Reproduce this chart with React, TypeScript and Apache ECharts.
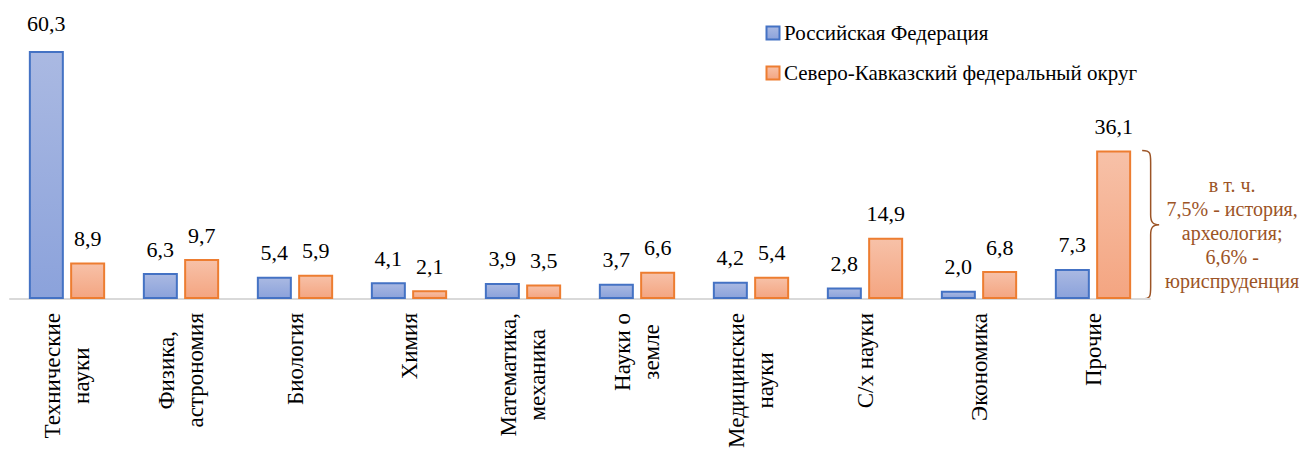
import React, { useEffect, useRef } from "react";
import * as echarts from "echarts";

const categories = [
  "Технические\nнауки",
  "Физика,\nастрономия",
  "Биология",
  "Химия",
  "Математика,\nмеханика",
  "Науки о\nземле",
  "Медицинские\nнауки",
  "С/х науки",
  "Экономика",
  "Прочие",
];
const seriesNames = ["Российская Федерация", "Северо-Кавказский федеральный округ"];
const rfValues = [60.3, 6.3, 5.4, 4.1, 3.9, 3.7, 4.2, 2.8, 2.0, 7.3];
const skfoValues = [8.9, 9.7, 5.9, 2.1, 3.5, 6.6, 5.4, 14.9, 6.8, 36.1];
const noteLines = ["в т. ч.", "7,5% - история,", "археология;", "6,6% -", "юриспруденция"];

const FONT = "Liberation Serif";
const AXIS_FS = 23;
const VAL_FS = 22;
const LEG_FS = 21;
const BROWN = "#9C5426";
const BLUE_BORDER = "#4472C4";
const ORANGE_BORDER = "#ED7D31";

function measure(text: string, size: number): number {
  const c = document.createElement("canvas");
  const ctx = c.getContext("2d");
  if (!ctx) return text.length * size * 0.5;
  ctx.font = `${size}px "Liberation Serif"`;
  return ctx.measureText(text).width;
}

const blueGrad = () =>
  new echarts.graphic.LinearGradient(0, 0, 0, 1, [
    { offset: 0, color: "#AAB9E2" },
    { offset: 1, color: "#8BA2DB" },
  ]);
const orangeGrad = () =>
  new echarts.graphic.LinearGradient(0, 0, 0, 1, [
    { offset: 0, color: "#F7C1A8" },
    { offset: 1, color: "#F4A581" },
  ]);

export default function App() {
  const ref = useRef<HTMLDivElement>(null);
  useEffect(() => {
    if (!ref.current) return;
    const chart = echarts.init(ref.current, undefined, { renderer: "svg" });

    const rich: Record<string, any> = {};
    categories.forEach((c, i) => {
      const w = Math.max(...c.split("\n").map((l) => measure(l, AXIS_FS)));
      rich["c" + i] = {
        width: Math.ceil(w) + 1,
        align: "center",
        fontSize: AXIS_FS,
        fontFamily: FONT,
        color: "#000",
        lineHeight: 28,
      };
    });

    const fmt = (v: number) => v.toFixed(1).replace(".", ",");

    const labelCfg = {
      show: true,
      position: "top" as const,
      distance: 8,
      fontSize: VAL_FS,
      fontFamily: FONT,
      color: "#000",
      formatter: (p: any) => fmt(p.value),
    };

    chart.setOption({
      animation: false,
      textStyle: { fontFamily: FONT },
      grid: { left: 2, right: 149, top: 43, bottom: 161, containLabel: false },
      legend: {
        orient: "vertical",
        left: 758,
        top: 7,
        itemWidth: 13,
        itemHeight: 13,
        itemGap: 16,
        icon: "rect",
        textStyle: { fontSize: LEG_FS, fontFamily: FONT, color: "#000" },
        data: seriesNames,
      },
      xAxis: {
        type: "category",
        data: categories,
        axisLine: { show: true, lineStyle: { color: "#D9D9D9", width: 2 } },
        axisTick: { show: false },
        axisLabel: {
          interval: 0,
          rotate: 90,
          margin: 14,
          fontFamily: FONT,
          fontSize: AXIS_FS,
          formatter: (v: string, i: number) =>
            v
              .split("\n")
              .map((l) => `{c${i}|${l}}`)
              .join("\n"),
          rich,
        },
      },
      yAxis: {
        type: "value",
        min: 0,
        max: 60.3,
        show: false,
        splitLine: { show: false },
      },
      series: [
        {
          name: seriesNames[0],
          type: "bar",
          data: rfValues,
          barWidth: 35,
          barGap: "18%",
          itemStyle: { color: blueGrad(), borderColor: BLUE_BORDER, borderWidth: 2 },
          label: labelCfg,
        },
        {
          name: seriesNames[1],
          type: "bar",
          data: skfoValues,
          barWidth: 35,
          itemStyle: { color: orangeGrad(), borderColor: ORANGE_BORDER, borderWidth: 2 },
          label: labelCfg,
        },
      ],
    });

    try {
      const model = (chart as any).getModel();
      const d0 = model.getSeriesByIndex(0).getData();
      const d1 = model.getSeriesByIndex(1).getData();
      const topOf = (l: any) => Math.min(l.y, l.y + l.height);
      const botOf = (l: any) => Math.max(l.y, l.y + l.height);

      const els: any[] = [];

      [d0, d1].forEach((dd: any, s: number) => {
        const vals = s === 0 ? rfValues : skfoValues;
        vals.forEach((v, i) => {
          const l = dd.getItemLayout(i);
          els.push({
            type: "text",
            x: l.x + l.width / 2,
            y: topOf(l) - (s === 0 && i === 0 ? 17 : 13),
            style: {
              text: fmt(v),
              fill: "#000",
              fontSize: VAL_FS,
              fontFamily: FONT,
              textAlign: "center",
              textVerticalAlign: "bottom",
            },
          });
        });
      });

      categories.forEach((c, i) => {
        const a = d0.getItemLayout(i);
        const b = d1.getItemLayout(i);
        const cx = (a.x + b.x + b.width) / 2;
        const ay = botOf(a);
        const lines = c.split("\n");
        const mw = Math.max(...lines.map((t) => measure(t, AXIS_FS)));
        lines.forEach((t, j) => {
          els.push({
            type: "text",
            x: cx + (j - (lines.length - 1) / 2) * 29,
            y: ay + 14 + mw / 2,
            rotation: Math.PI / 2,
            style: {
              text: t,
              fill: "#000",
              fontSize: AXIS_FS,
              fontFamily: FONT,
              textAlign: "center",
              textVerticalAlign: "middle",
            },
          });
        });
      });

      seriesNames.forEach((n, k) => {
        const cy = 25 + k * 40;
        els.push({
          type: "rect",
          shape: { x: 758.5, y: cy - 6.5, width: 13, height: 13 },
          style: {
            fill: k === 0 ? blueGrad() : orangeGrad(),
            stroke: k === 0 ? BLUE_BORDER : ORANGE_BORDER,
            lineWidth: 2,
          },
        });
        els.push({
          type: "text",
          x: 776,
          y: cy,
          style: {
            text: n,
            fill: "#000",
            fontSize: LEG_FS,
            fontFamily: FONT,
            textAlign: "left",
            textVerticalAlign: "middle",
          },
        });
      });

      const lay = d1.getItemLayout(skfoValues.length - 1);
      const x0 = lay.x + lay.width + 11;
      const yTop = topOf(lay);
      const yBot = botOf(lay);
      const yMid = (yTop + yBot) / 2;
      const w = 17;
      const xm = x0 + w * 0.5;
      const d =
        `M${x0},${yTop} C${xm},${yTop} ${xm},${yTop + 3} ${xm},${yTop + 12} ` +
        `L${xm},${yMid - 10} C${xm},${yMid - 3} ${xm + 2},${yMid} ${x0 + w},${yMid} ` +
        `C${xm + 2},${yMid} ${xm},${yMid + 3} ${xm},${yMid + 10} ` +
        `L${xm},${yBot - 12} C${xm},${yBot - 3} ${xm},${yBot} ${x0},${yBot}`;
      echarts.graphic.registerShape("brace", echarts.graphic.extendPath(d, {}) as any);
      els.push({
        type: "brace",
        x: 0,
        y: 0,
        style: { fill: "none", stroke: BROWN, lineWidth: 1.5 },
      });
      const lh = 24;
      noteLines.forEach((t, i) => {
        els.push({
          type: "text",
          x: x0 + 90,
          y: yMid + 8 + (i - (noteLines.length - 1) / 2) * lh,
          style: {
            text: t,
            fill: BROWN,
            fontSize: 20,
            fontFamily: FONT,
            textAlign: "center",
            textVerticalAlign: "middle",
          },
        });
      });

      chart.setOption({
        graphic: els,
        legend: { show: false },
        xAxis: { axisLabel: { show: false } },
        series: [{ label: { show: false } }, { label: { show: false } }],
      });
    } catch (e) {
      // keep the library-drawn labels if anything fails
    }

    return () => chart.dispose();
  }, []);
  return <div ref={ref} style={{ width: 1291, height: 452 }} />;
}
